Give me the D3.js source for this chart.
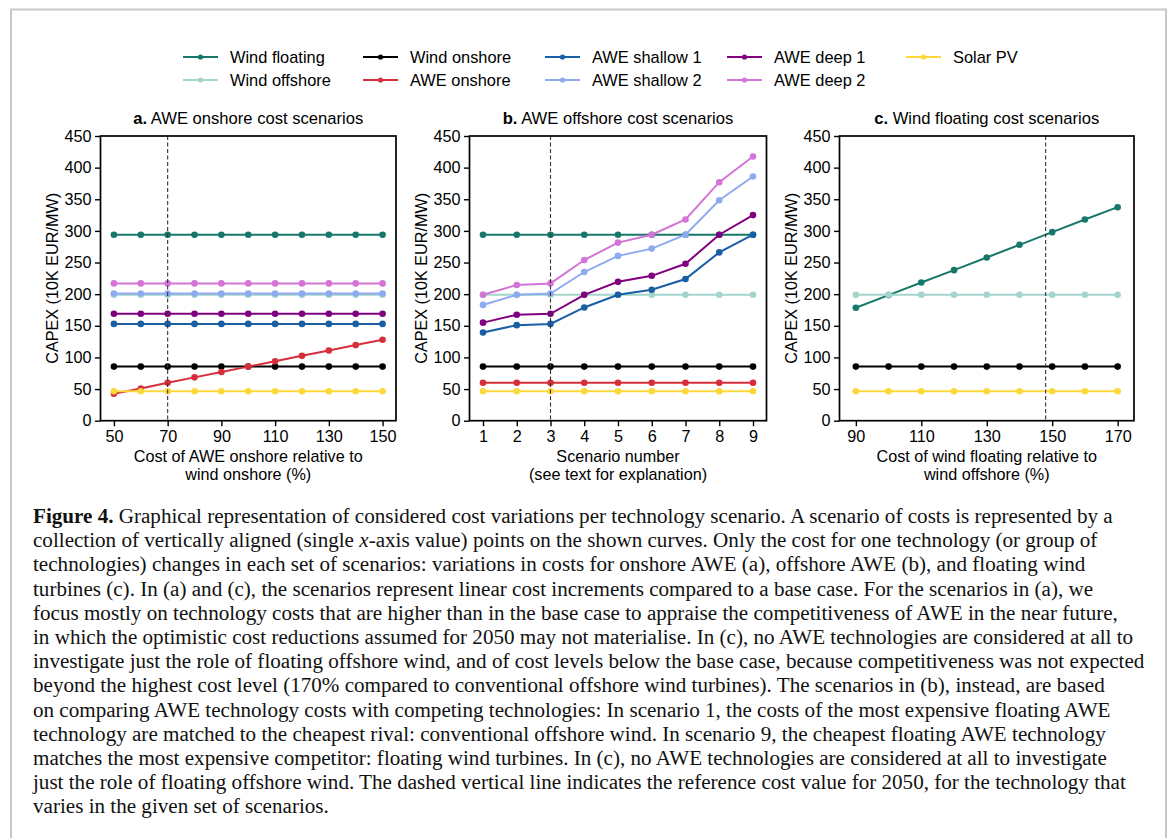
<!DOCTYPE html>
<html><head><meta charset="utf-8">
<script src="https://cdn.jsdelivr.net/npm/d3@7"></script>
<style>
html,body{margin:0;padding:0;background:#fff;}
svg{display:block;}
</style></head><body>
<svg id="chart" width="1175" height="838"></svg>
<script>
// ---------- data ----------
const seriesNames = ["Wind floating","Wind offshore","Wind onshore","AWE onshore","AWE shallow 1","AWE shallow 2","AWE deep 1","AWE deep 2","Solar PV"];
const seriesColors = ["#17786a","#a3d5cb","#000000","#d62f3b","#1a5fa5","#8eaaf0","#800080","#d374d6","#fcd83c"];
const yTicks = [0,50,100,150,200,250,300,350,400,450];

// Panel a: AWE onshore cost scenarios
const xA = [50,60,70,80,90,100,110,120,130,140,150];
const xTicksA = [50,70,90,110,130,150];
const aWindFloating = [294,294,294,294,294,294,294,294,294,294,294];
const aWindOffshore = [199,199,199,199,199,199,199,199,199,199,199];
const aWindOnshore  = [85.5,85.5,85.5,85.5,85.5,85.5,85.5,85.5,85.5,85.5,85.5];
const aAWEOnshore   = [42.5,51,60,68.5,77,85.5,94,102.5,111,119.5,128];
const aAWEShallow1  = [153,153,153,153,153,153,153,153,153,153,153];
const aAWEShallow2  = [201,201,201,201,201,201,201,201,201,201,201];
const aAWEDeep1     = [169,169,169,169,169,169,169,169,169,169,169];
const aAWEDeep2     = [217,217,217,217,217,217,217,217,217,217,217];
const aSolarPV      = [46.5,46.5,46.5,46.5,46.5,46.5,46.5,46.5,46.5,46.5,46.5];
const refA = 70;

// Panel b: AWE offshore cost scenarios
const xB = [1,2,3,4,5,6,7,8,9];
const xTicksB = [1,2,3,4,5,6,7,8,9];
const bWindFloating = [294,294,294,294,294,294,294,294,294];
const bWindOffshore = [199,199,199,199,199,199,199,199,199];
const bWindOnshore  = [85.5,85.5,85.5,85.5,85.5,85.5,85.5,85.5,85.5];
const bAWEOnshore   = [60,60,60,60,60,60,60,60,60];
const bAWEShallow1  = [139.5,151,153,179,199,207,224,266,294];
const bAWEShallow2  = [183,199,201,235,260.5,272,294,348.5,386];
const bAWEDeep1     = [155,167.5,169,199,219.5,229,248,294,325];
const bAWEDeep2     = [199,214.5,217,254,281.5,294,318,377,417.5];
const bSolarPV      = [46.5,46.5,46.5,46.5,46.5,46.5,46.5,46.5,46.5];
const refB = 3;

// Panel c: Wind floating cost scenarios
const xC = [90,100,110,120,130,140,150,160,170];
const xTicksC = [90,110,130,150,170];
const cWindFloating = [178.5,198.5,218.5,238,258,278,298,318,337.5];
const cWindOffshore = [199,199,199,199,199,199,199,199,199];
const cWindOnshore  = [85.5,85.5,85.5,85.5,85.5,85.5,85.5,85.5,85.5];
const cSolarPV      = [46.5,46.5,46.5,46.5,46.5,46.5,46.5,46.5,46.5];
const refC = 148;

const captionLines = [
  ["Figure 4.", " Graphical representation of considered cost variations per technology scenario. A scenario of costs is represented by a"],
  ["", "collection of vertically aligned (single ", "x", "-axis value) points on the shown curves. Only the cost for one technology (or group of"],
  ["", "technologies) changes in each set of scenarios: variations in costs for onshore AWE (a), offshore AWE (b), and floating wind"],
  ["", "turbines (c). In (a) and (c), the scenarios represent linear cost increments compared to a base case. For the scenarios in (a), we"],
  ["", "focus mostly on technology costs that are higher than in the base case to appraise the competitiveness of AWE in the near future,"],
  ["", "in which the optimistic cost reductions assumed for 2050 may not materialise. In (c), no AWE technologies are considered at all to"],
  ["", "investigate just the role of floating offshore wind, and of cost levels below the base case, because competitiveness was not expected"],
  ["", "beyond the highest cost level (170% compared to conventional offshore wind turbines). The scenarios in (b), instead, are based"],
  ["", "on comparing AWE technology costs with competing technologies: In scenario 1, the costs of the most expensive floating AWE"],
  ["", "technology are matched to the cheapest rival: conventional offshore wind. In scenario 9, the cheapest floating AWE technology"],
  ["", "matches the most expensive competitor: floating wind turbines. In (c), no AWE technologies are considered at all to investigate"],
  ["", "just the role of floating offshore wind. The dashed vertical line indicates the reference cost value for 2050, for the technology that"],
  ["", "varies in the given set of scenarios."]
];

// ---------- drawing ----------
const svg = d3.select("#chart");
const SANS = "'Liberation Sans', Arial, Helvetica, sans-serif";
const SERIF = "'Liberation Serif', 'Times New Roman', serif";

// page frame
svg.append("path").attr("d","M11,838 V9.5 H1166 V838").attr("fill","none").attr("stroke","#c8c8c8").attr("stroke-width",2);

// legend
const legendCols = [183,363,545,727,906];
const legendRows = [57,80];
seriesNames.forEach((name,i)=>{
  const col = Math.floor(i/2), row = i%2;
  const g = svg.append("g").attr("transform",`translate(${legendCols[col]},${legendRows[row]})`);
  g.append("line").attr("x1",0).attr("x2",35).attr("y1",0).attr("y2",0).attr("stroke",seriesColors[i]).attr("stroke-width",2);
  g.append("circle").attr("cx",17.5).attr("cy",0).attr("r",2.6).attr("fill",seriesColors[i]);
  g.append("text").attr("x",47).attr("y",5.6).attr("font-family",SANS).attr("font-size",16.4).attr("fill","#000").text(name);
});

const plotTop = 136, plotBottom = 420.7;
const yScale = d3.scaleLinear().domain([0,450]).range([plotBottom, plotTop]);

function panel(opts){
  const x = d3.scaleLinear().domain(opts.domain).range([opts.left, opts.right]);
  const g = svg.append("g");
  // series
  opts.series.forEach(s=>{
    const idx = seriesNames.indexOf(s.name);
    const pts = opts.xs.map((xv,j)=>[xv, s.values[j]]);
    g.append("path").datum(pts)
      .attr("d", d3.line().x(d=>x(d[0])).y(d=>yScale(d[1])))
      .attr("fill","none").attr("stroke",seriesColors[idx]).attr("stroke-width",2);
    g.selectAll(null).data(pts).enter().append("circle")
      .attr("cx",d=>x(d[0])).attr("cy",d=>yScale(d[1])).attr("r",3.3)
      .attr("fill",seriesColors[idx]);
  });
  // reference line
  g.append("line").attr("x1",x(opts.ref)).attr("x2",x(opts.ref)).attr("y1",plotTop).attr("y2",plotBottom)
    .attr("stroke","#333").attr("stroke-width",1.1).attr("stroke-dasharray","4,2.5");
  // axes
  const xAxis = d3.axisBottom(x).tickValues(opts.ticks).tickSize(5.5).tickPadding(4).tickFormat(d3.format("d"));
  const ax = svg.append("g").attr("transform",`translate(0,${plotBottom})`).call(xAxis);
  const yAxis = d3.axisLeft(yScale).tickValues(yTicks).tickSize(5.5).tickPadding(3.5).tickFormat(d3.format("d"));
  const ay = svg.append("g").attr("transform",`translate(${opts.left},0)`).call(yAxis);
  [ax,ay].forEach(a=>{
    a.select(".domain").remove();
    a.selectAll(".tick line").attr("stroke","#000").attr("stroke-width",1.4);
    a.selectAll(".tick text").attr("font-family",SANS).attr("font-size",16.2).attr("fill","#000");
  });
  // frame
  svg.append("rect").attr("x",opts.left).attr("y",plotTop).attr("width",opts.right-opts.left).attr("height",plotBottom-plotTop)
    .attr("fill","none").attr("stroke","#000").attr("stroke-width",1.7);
  // title
  const cx = (opts.left+opts.right)/2;
  const t = svg.append("text").attr("x",cx).attr("y",124).attr("text-anchor","middle")
    .attr("font-family",SANS).attr("font-size",16.6).attr("fill","#000");
  t.append("tspan").attr("font-weight","bold").text(opts.letter);
  t.append("tspan").text(" " + opts.title);
  // x label
  opts.xlabel.forEach((line,k)=>{
    svg.append("text").attr("x",cx).attr("y",462+k*18).attr("text-anchor","middle")
      .attr("font-family",SANS).attr("font-size",16.2).attr("fill","#000").text(line);
  });
  // y label
  const cy = (plotTop+plotBottom)/2;
  svg.append("text").attr("transform",`translate(${opts.left-43},${cy}) rotate(-90)`).attr("text-anchor","middle")
    .attr("font-family",SANS).attr("font-size",16.2).attr("fill","#000").text("CAPEX (10K EUR/MW)");
}

panel({left:100.5,right:396,domain:[45,155],xs:xA,ticks:xTicksA,ref:refA,letter:"a.",title:"AWE onshore cost scenarios",
  xlabel:["Cost of AWE onshore relative to","wind onshore (%)"],
  series:[
    {name:"Wind floating",values:aWindFloating},{name:"Wind offshore",values:aWindOffshore},
    {name:"Wind onshore",values:aWindOnshore},{name:"AWE onshore",values:aAWEOnshore},
    {name:"AWE shallow 1",values:aAWEShallow1},{name:"AWE shallow 2",values:aAWEShallow2},
    {name:"AWE deep 1",values:aAWEDeep1},{name:"AWE deep 2",values:aAWEDeep2},
    {name:"Solar PV",values:aSolarPV}]});

panel({left:469.5,right:766.5,domain:[0.6,9.4],xs:xB,ticks:xTicksB,ref:refB,letter:"b.",title:"AWE offshore cost scenarios",
  xlabel:["Scenario number","(see text for explanation)"],
  series:[
    {name:"Wind floating",values:bWindFloating},{name:"Wind offshore",values:bWindOffshore},
    {name:"Wind onshore",values:bWindOnshore},{name:"AWE onshore",values:bAWEOnshore},
    {name:"AWE shallow 1",values:bAWEShallow1},{name:"AWE shallow 2",values:bAWEShallow2},
    {name:"AWE deep 1",values:bAWEDeep1},{name:"AWE deep 2",values:bAWEDeep2},
    {name:"Solar PV",values:bSolarPV}]});

panel({left:839.5,right:1134,domain:[85,175],xs:xC,ticks:xTicksC,ref:refC,letter:"c.",title:"Wind floating cost scenarios",
  xlabel:["Cost of wind floating relative to","wind offshore (%)"],
  series:[
    {name:"Wind floating",values:cWindFloating},{name:"Wind offshore",values:cWindOffshore},
    {name:"Wind onshore",values:cWindOnshore},{name:"Solar PV",values:cSolarPV}]});

// caption
const capG = svg.append("g");
let capSize = 18;
const capTexts = captionLines.map((parts,k)=>{
  const t = capG.append("text").attr("x",33).attr("y",523 + k*24.2)
    .attr("font-family",SERIF).attr("font-size",capSize).attr("fill","#111");
  parts.forEach((p,j)=>{
    if(!p) return;
    const sp = t.append("tspan").text(p);
    if(k===0 && j===0) sp.attr("font-weight","bold");
    if(k===1 && j===2) sp.attr("font-style","italic");
  });
  return t;
});
// fit font size so the text block spans about the same width as in the reference
const w7 = capTexts[6].node().getComputedTextLength();
capSize = capSize * 1112 / w7;
capTexts.forEach(t=>t.attr("font-size",capSize));
</script>
</body></html>
